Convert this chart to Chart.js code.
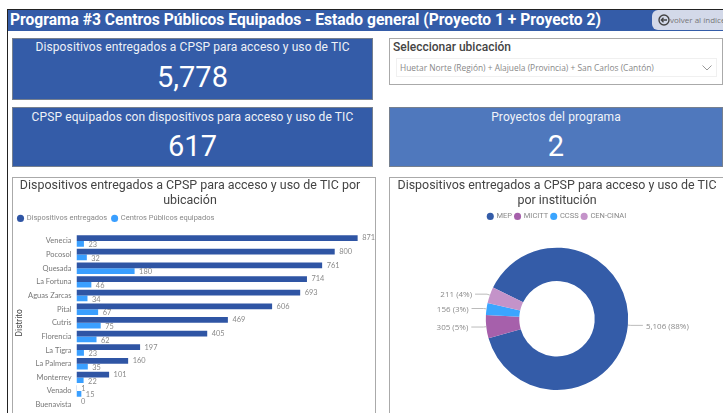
<!DOCTYPE html>
<html lang="es">
<head>
  <meta charset="UTF-8" />
  <title>Programa #3 Centros Públicos Equipados</title>
  <script src="https://cdn.jsdelivr.net/npm/chart.js"></script>
  <style>
    html, body { margin: 0; width: 723px; height: 413px; overflow: hidden; background: #fff; }
    body { font-family: Roboto, sans-serif; position: relative; }
    .frame { position: absolute; left: 7px; top: 9px; width: 716px; height: 404px; border-left: 1px solid #222; border-top: 1px solid #222; box-sizing: border-box; }
    .bar { position: absolute; left: 8px; top: 10px; width: 715px; height: 21px; background: #345ca8; color: #fff; font: 700 15.6px Roboto, sans-serif; line-height: 21px; padding-left: 2px; box-sizing: border-box; white-space: nowrap; }
    .back { position: absolute; left: 652px; top: 10px; width: 71px; height: 20px; background: #d3d9e9; border-radius: 6px 0 0 6px; color: #777; font: 8px "Open Sans", sans-serif; line-height: 20px; padding-left: 18px; box-sizing: border-box; white-space: nowrap; overflow: hidden; }
    .back svg { position: absolute; left: 6px; top: 4px; }
    .kpi { position: absolute; background: #345ca8; border: 1px solid #76808f; box-sizing: border-box; color: #fff; text-align: center; }
    .kpi .name { position: absolute; left: 0; right: 0; top: 0; font-size: 12px; letter-spacing: 0.12px; line-height: 14px; padding-top: 1px; opacity: .92; white-space: nowrap; }
    .kpi .value { position: absolute; left: 0; right: 0; font-size: 29px; line-height: 32px; }
    .panel { position: absolute; border: 1px solid #aaa; box-sizing: border-box; background: #fff; }
    .selector .label { position: absolute; left: 3px; top: 1px; font-size: 12px; line-height: 15px; color: #444; font-weight: 500; }
    .selector .box { position: absolute; left: 6px; top: 19px; right: 5px; height: 17px; border: 1px solid #f0f0f0; color: #888; font: 8.4px "Open Sans", sans-serif; line-height: 17px; padding-left: 3px; }
    .selector svg { position: absolute; right: 4px; top: 6px; }
    canvas { display: block; }
  </style>
</head>
<body>
  <div class="frame"></div>
  <div class="bar">Programa #3 Centros Públicos Equipados - Estado general (Proyecto 1 + Proyecto 2)</div>
  <div class="back">
    <svg width="12" height="12" viewBox="0 0 12 12"><circle cx="6" cy="6" r="5" fill="none" stroke="#444" stroke-width="1.4"/><path d="M9 6H3.5M5.5 3.8 3.3 6l2.2 2.2" fill="none" stroke="#444" stroke-width="1.3"/></svg>
    volver al índice
  </div>

  <div class="kpi" style="left:12px;top:38px;width:361px;height:62px">
    <div class="name" id="kpi1Name"></div>
    <div class="value" id="kpi1Value" style="top:22px"></div>
  </div>
  <div class="kpi" style="left:12px;top:107px;width:361px;height:60px">
    <div class="name" id="kpi2Name" style="top:1px"></div>
    <div class="value" id="kpi2Value" style="top:22px"></div>
  </div>
  <div class="panel selector" style="left:389px;top:38px;width:334px;height:47px">
    <div class="label">Seleccionar ubicación</div>
    <div class="box" id="ubicacion">
      <svg width="10" height="6" viewBox="0 0 10 6"><path d="M.5.5 5 5 9.5.5" fill="none" stroke="#999"/></svg>
    </div>
  </div>
  <div class="kpi" style="left:389px;top:107px;width:334px;height:60px;background:#4f78bd">
    <div class="name" id="kpi3Name" style="top:1px"></div>
    <div class="value" id="kpi3Value" style="top:22px"></div>
  </div>

  <div class="panel" style="left:12px;top:177px;width:364px;height:245px"><canvas id="barChart" width="362" height="243"></canvas></div>
  <div class="panel" style="left:389px;top:177px;width:336px;height:245px"><canvas id="donutChart" width="334" height="243"></canvas></div>

  <script>
    // Data
    const distritos = ['Venecia', 'Pocosol', 'Quesada', 'La Fortuna', 'Aguas Zarcas', 'Pital', 'Cutris', 'Florencia', 'La Tigra', 'La Palmera', 'Monterrey', 'Venado', 'Buenavista'];
    const dispositivos = [871, 800, 761, 714, 693, 606, 469, 405, 197, 160, 101, 1, 0];
    const centros = [23, 32, 180, 46, 34, 67, 75, 62, 23, 35, 22, 15, null];
    const instituciones = ['MEP', 'MICITT', 'CCSS', 'CEN-CINAI'];
    const entregados = [5106, 305, 156, 211];
    const etiquetas = ['5,106 (88%)', '305 (5%)', '156 (3%)', '211 (4%)'];
    const barTitle = ['Dispositivos entregados a CPSP para acceso y uso de TIC por', 'ubicación'];
    const donutTitle = ['Dispositivos entregados a CPSP para acceso y uso de TIC', 'por institución'];

    document.getElementById('kpi1Name').textContent = 'Dispositivos entregados a CPSP para acceso y uso de TIC';
    document.getElementById('kpi1Value').textContent = '5,778';
    document.getElementById('kpi2Name').textContent = 'CPSP equipados con dispositivos para acceso y uso de TIC';
    document.getElementById('kpi2Value').textContent = '617';
    document.getElementById('kpi3Name').textContent = 'Proyectos del programa';
    document.getElementById('kpi3Value').textContent = '2';
    document.getElementById('ubicacion').prepend('Huetar Norte (Región) + Alajuela (Provincia) + San Carlos (Cantón)');

    const azul = '#2f55a4';
    const celeste = '#3a9fff';

    // adds room under the legend so the plot starts where it should
    const legendGap = (extra) => ({
      id: 'legendGap',
      beforeInit(chart) {
        const fit = chart.legend.fit;
        chart.legend.fit = function () {
          fit.call(this);
          this.height += extra;
        };
      }
    });

    // value labels at the end of each bar
    const barLabels = {
      id: 'barLabels',
      afterDatasetsDraw(chart) {
        const ctx = chart.ctx;
        ctx.save();
        ctx.font = '7.4px Lato, sans-serif';
        ctx.fillStyle = '#8a8a8a';
        ctx.textBaseline = 'middle';
        chart.data.datasets.forEach((ds, d) => {
          chart.getDatasetMeta(d).data.forEach((bar, i) => {
            if (ds.data[i] === null) return;
            ctx.fillText(ds.data[i], bar.x + 4.5, bar.y + (d === 1 ? 1 : 0));
          });
        });
        ctx.restore();
      }
    };

    new Chart(document.getElementById('barChart'), {
      type: 'bar',
      data: {
        labels: distritos,
        datasets: [
          { label: 'Dispositivos entregados', data: dispositivos, backgroundColor: azul },
          { label: 'Centros Públicos equipados', data: centros, backgroundColor: celeste }
        ]
      },
      options: {
        indexAxis: 'y',
        responsive: false,
        animation: false,
        layout: { padding: { right: 8, top: 0, bottom: 8 } },
        datasets: { bar: { categoryPercentage: 0.84, barPercentage: 1 } },
        scales: {
          x: { display: false, min: 0, max: 900 },
          y: {
            grid: { display: false, drawTicks: false },
            border: { display: false },
            afterFit(axis) { axis.width = 63.5; },
            ticks: { autoSkip: false, padding: 5, color: '#777', font: { family: 'Lato', size: 7.5 } },
            title: { display: true, text: 'Distrito', color: '#444', padding: { top: 2, bottom: 0 }, font: { family: 'Roboto', size: 8.5 } }
          }
        },
        plugins: {
          tooltip: { enabled: false },
          title: { display: true, text: barTitle, color: '#444', padding: { top: 1, bottom: 2 }, font: { family: 'Roboto', size: 12.45, weight: 'normal', lineHeight: 1.15 } },
          legend: {
            align: 'start',
            labels: { usePointStyle: true, pointStyle: 'circle', boxWidth: 5, boxHeight: 5, padding: 5, color: '#888', font: { family: 'Roboto', size: 7.5 } }
          }
        }
      },
      plugins: [barLabels, legendGap(2)]
    });

    // outside labels with leader lines
    const donutLabels = {
      id: 'donutLabels',
      afterDatasetsDraw(chart) {
        const ctx = chart.ctx;
        ctx.save();
        ctx.font = '8px "Open Sans", sans-serif';
        ctx.textBaseline = 'middle';
        chart.getDatasetMeta(0).data.forEach((arc, i) => {
          const mid = (arc.startAngle + arc.endAngle) / 2;
          const right = Math.cos(mid) > 0;
          const x0 = arc.x + Math.cos(mid) * arc.outerRadius;
          const y0 = arc.y + Math.sin(mid) * arc.outerRadius;
          const x1 = arc.x + Math.cos(mid) * (arc.outerRadius + 3);
          const y1 = arc.y + Math.sin(mid) * (arc.outerRadius + 3);
          const x2 = x1 + (right ? 12 : -12);
          ctx.strokeStyle = '#bbb';
          ctx.beginPath();
          ctx.moveTo(x0, y0);
          ctx.lineTo(x1, y1);
          ctx.lineTo(x2, y1);
          ctx.stroke();
          ctx.fillStyle = '#8a8a8a';
          ctx.textAlign = right ? 'left' : 'right';
          ctx.fillText(etiquetas[i], x2 + (right ? 3 : -3), y1 + 1);
        });
        ctx.restore();
      }
    };

    new Chart(document.getElementById('donutChart'), {
      type: 'doughnut',
      data: {
        labels: instituciones,
        datasets: [{
          data: entregados,
          backgroundColor: ['#345ca8', '#a660ab', '#3aa5ff', '#c493c9'],
          borderWidth: 0
        }]
      },
      options: {
        responsive: false,
        animation: false,
        rotation: -64,
        cutout: '53%',
        layout: { padding: { bottom: 31 } },
        plugins: {
          tooltip: { enabled: false },
          title: { display: true, text: donutTitle, color: '#444', padding: { top: 1, bottom: 2 }, font: { family: 'Roboto', size: 12.45, weight: 'normal', lineHeight: 1.15 } },
          legend: {
            labels: { usePointStyle: true, pointStyle: 'circle', boxWidth: 5, boxHeight: 5, padding: 3, color: '#888', font: { family: 'Roboto', size: 7.5 } }
          }
        }
      },
      plugins: [donutLabels, legendGap(17.5)]
    });
  </script>
</body>
</html>
